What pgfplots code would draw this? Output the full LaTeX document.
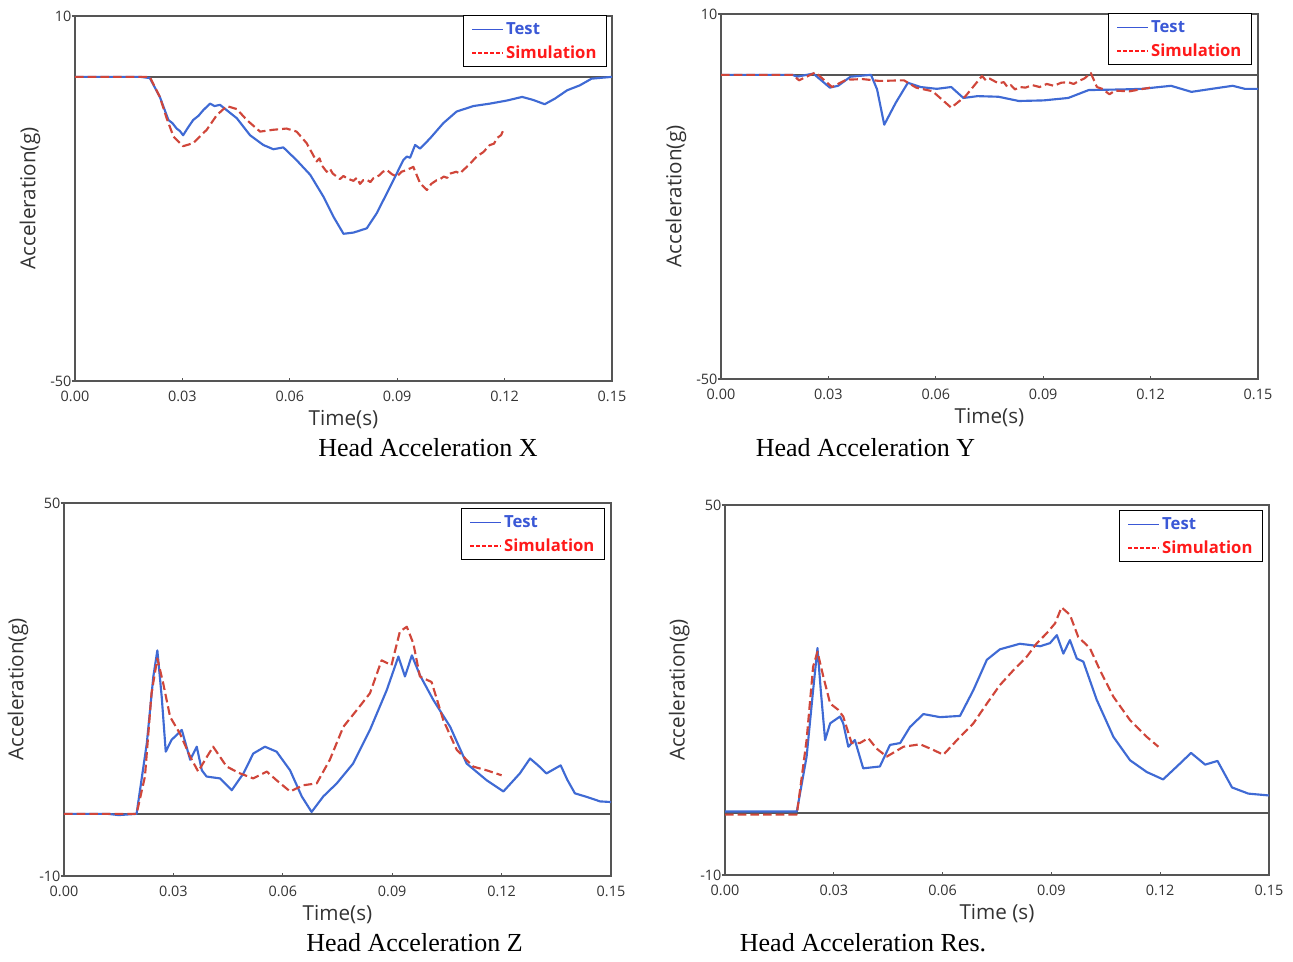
\documentclass[border=0pt]{standalone}
\usepackage{fontspec}
\setmainfont{Open Sans}
\newfontfamily\capfont{Liberation Serif}
\usepackage{pgfplots}
\pgfplotsset{compat=1.18}
\definecolor{testblue}{HTML}{3F6AD4}
\definecolor{simred}{HTML}{D0463A}
\definecolor{legblue}{HTML}{3A58D6}
\definecolor{legred}{HTML}{FF1A1A}
\definecolor{axgray}{HTML}{555555}
\definecolor{txtgray}{HTML}{333333}
\pgfplotsset{
  panel/.style={
    scale only axis,
    xmin=0, xmax=0.15,
    xtick={0,0.03,0.06,0.09,0.12,0.15},
    xticklabels={0.00,0.03,0.06,0.09,0.12,0.15},
    xtick pos=bottom, ytick pos=left,
    tick align=inside,
    major tick length=2.5pt,
    tick style={axgray, line width=0.9pt},
    y tick style={xshift=-2.5pt},
    axis line style={axgray, line width=1.5pt},
    ticklabel style={font=\fontsize{10.8}{12}\selectfont, text=txtgray},
    yticklabel style={inner sep=1pt, xshift=-1.5pt},
    xticklabel style={inner sep=1pt, yshift=-6.5pt},
    xlabel style={font=\fontsize{15.5}{17}\selectfont, text=txtgray,
      at={(axis description cs:0.5,0)}, anchor=center, yshift=-29pt},
    ylabel style={font=\fontsize{15.5}{17}\selectfont, text=txtgray,
      at={(axis description cs:-0.084,0.5)}, anchor=center},
    legend cell align=left,
    legend style={draw=black, line width=0.8pt, fill=white, anchor=north east,
      font=\fontsize{12.5}{14}\selectfont\bfseries, inner xsep=6pt, inner ysep=3.5pt, row sep=4pt,
      nodes={inner sep=1.5pt}},
    legend image code/.code={\draw[#1] (0pt,0pt) -- (23pt,0pt);},
  },
  zeroline/.style={forget plot, axgray, line width=1.5pt},
  testline/.style={forget plot, testblue, line width=1.6pt, line join=round},
  simline/.style={forget plot, simred, line width=1.6pt, dash pattern=on 6.5pt off 3pt, line join=round},
}
\newcommand\legendimages{%
  \addlegendimage{legblue, line width=0.8pt}
  \addlegendimage{legred, line width=1.5pt, dash pattern=on 3pt off 1.4pt}
  \addlegendentry{\textcolor{legblue}{Test}}
  \addlegendentry{\textcolor{legred}{Simulation}}}
\begin{document}
\begin{tikzpicture}
\useasboundingbox (0,0) rectangle (969.75pt,-720.75pt);
% ---------------- X ----------------
\begin{axis}[panel, at={(56.25pt,-285.75pt)}, anchor=south west,
  width=402.75pt, height=273.75pt, ymin=-50, ymax=10,
  ytick={-50,10}, yticklabels={-50,10},
  xlabel={Time(s)}, ylabel={Acceleration(g)},
  legend style={at={(rel axis cs:0.9907,1.0027)}}]
\legendimages
\addplot[zeroline] coordinates {(0,0) (0.15,0)};
\addplot[testline] coordinates {
(0,0) (0.0182,0) (0.0209,-0.2) (0.0237,-3.3) (0.0261,-7.1) (0.0272,-7.6) (0.0284,-8.5)
(0.0293,-8.9) (0.0302,-9.6) (0.0315,-8.4) (0.033,-7.1) (0.0345,-6.4) (0.0358,-5.5)
(0.0377,-4.4) (0.0390,-4.8) (0.0405,-4.6) (0.0452,-6.8) (0.0489,-9.6) (0.0526,-11.2)
(0.0554,-11.9) (0.0582,-11.6) (0.0619,-13.7) (0.0657,-16.1) (0.0694,-19.7) (0.0722,-23.0)
(0.075,-25.8) (0.0778,-25.6) (0.0815,-24.9) (0.0843,-22.4) (0.088,-18.1) (0.0917,-13.7)
(0.0927,-13.1) (0.0936,-13.3) (0.095,-11.2) (0.0964,-11.8) (0.0992,-10.1) (0.1029,-7.6)
(0.1066,-5.7) (0.1113,-4.8) (0.1159,-4.4) (0.1206,-3.9) (0.1249,-3.3) (0.1280,-3.8)
(0.1312,-4.5) (0.1340,-3.6) (0.1375,-2.2) (0.1410,-1.4) (0.1443,-0.3) (0.15,0)};
\addplot[simline] coordinates {
(0,0) (0.0209,0) (0.0237,-3.3) (0.0256,-6.8) (0.0275,-9.8) (0.0302,-11.4) (0.033,-10.9)
(0.0368,-8.7) (0.0396,-6.3) (0.0424,-4.8) (0.0452,-5.3) (0.048,-7.1) (0.0517,-9.0)
(0.0554,-8.7) (0.0591,-8.5) (0.0619,-9.0) (0.0647,-10.9) (0.0675,-13.9) (0.0683,-13.4)
(0.0690,-14.6) (0.0703,-15.6) (0.0712,-15.1) (0.0720,-15.9) (0.074,-16.8) (0.0750,-16.3)
(0.0760,-16.7) (0.0778,-17.1) (0.0787,-16.6) (0.0796,-17.6) (0.0805,-17.0) (0.0815,-16.9)
(0.0825,-17.3) (0.0833,-16.7) (0.0850,-16.2) (0.0860,-15.6) (0.0871,-15.3) (0.0885,-16.0)
(0.0899,-16.4) (0.0912,-15.6) (0.0927,-15.3) (0.0945,-14.8) (0.0964,-17.5) (0.0983,-18.6)
(0.0995,-17.6) (0.101,-17.0) (0.1020,-16.8) (0.1030,-16.4) (0.1040,-16.6) (0.1048,-15.9)
(0.1065,-15.6) (0.1075,-15.9) (0.1085,-15.3) (0.1100,-14.5) (0.1122,-13.1) (0.1140,-12.4)
(0.1159,-11.2) (0.1170,-11.0) (0.1180,-10.0) (0.1190,-9.6) (0.1197,-8.7)};
\end{axis}
% ---------------- Y ----------------
\begin{axis}[panel, at={(540.75pt,-284.25pt)}, anchor=south west,
  width=402.75pt, height=273.75pt, ymin=-50, ymax=10,
  ytick={-50,10}, yticklabels={-50,10},
  xlabel={Time(s)}, ylabel={Acceleration(g)},
  legend style={at={(rel axis cs:0.9888,1.0027)}}]
\legendimages
\addplot[zeroline] coordinates {(0,0) (0.15,0)};
\addplot[testline] coordinates {
(0,0) (0.020,0) (0.0212,-0.3) (0.0258,0.2) (0.0304,-2.1) (0.0327,-1.8) (0.0362,-0.3)
(0.0419,0) (0.0436,-2.4) (0.0456,-8.2) (0.0488,-4.6) (0.0522,-1.3) (0.0557,-2.0)
(0.0603,-2.3) (0.0643,-2.0) (0.0677,-3.8) (0.0717,-3.5) (0.0775,-3.6) (0.0832,-4.3)
(0.0901,-4.2) (0.0970,-3.8) (0.1027,-2.5) (0.1119,-2.4) (0.1176,-2.3) (0.1257,-1.8)
(0.1314,-2.8) (0.1371,-2.3) (0.1429,-1.8) (0.1463,-2.3) (0.15,-2.3)};
\addplot[simline] coordinates {
(0,0) (0.020,0) (0.0218,-0.9) (0.0264,0.4) (0.031,-2.0) (0.035,-0.8) (0.0396,-0.7)
(0.0442,-1.0) (0.0511,-0.9) (0.0545,-2.1) (0.0591,-2.7) (0.0643,-5.4) (0.0683,-3.5)
(0.0729,-0.2) (0.0740,-0.9) (0.0750,-0.6) (0.0775,-1.4) (0.0790,-1.2) (0.0800,-2.0)
(0.0810,-1.7) (0.0821,-2.4) (0.0835,-2.0) (0.0850,-2.1) (0.0870,-1.7) (0.0890,-2.0)
(0.0910,-1.5) (0.0930,-1.8) (0.0950,-1.3) (0.0970,-1.2) (0.0985,-1.5) (0.1000,-1.0)
(0.1015,-0.6) (0.1033,0.3) (0.1050,-2.0) (0.1065,-2.3) (0.1085,-3.2) (0.1100,-2.6)
(0.1142,-2.7) (0.1170,-2.4) (0.12,-2.1)};
\end{axis}
% ---------------- Z ----------------
\begin{axis}[panel, at={(48pt,-657pt)}, anchor=south west,
  width=410.25pt, height=279.75pt, ymin=-10, ymax=50,
  ytick={-10,50}, yticklabels={-10,50},
  xlabel={Time(s)}, ylabel={Acceleration(g)},
  legend style={at={(rel axis cs:0.989,0.9866)}}]
\legendimages
\addplot[zeroline] coordinates {(0,0) (0.15,0)};
\addplot[testline] coordinates {
(0,0) (0.012,0) (0.015,-0.2) (0.0199,0) (0.0227,11.3) (0.0245,22.1) (0.0256,26.3)
(0.0268,18.8) (0.0279,10.0) (0.0295,11.9) (0.0323,13.5) (0.0346,8.7) (0.0364,10.8)
(0.0378,7.0) (0.0391,6.0) (0.0428,5.7) (0.046,3.8) (0.0492,6.5) (0.0519,9.7)
(0.0551,10.8) (0.0583,10.0) (0.062,7.0) (0.0652,2.8) (0.0679,0.3) (0.0711,2.8)
(0.0748,4.9) (0.0793,8.1) (0.0839,13.5) (0.0885,19.9) (0.0917,25.3) (0.0935,22.1)
(0.0954,25.5) (0.0976,22.3) (0.1013,18.3) (0.1059,14.0) (0.1104,8.1) (0.1159,5.4)
(0.1205,3.6) (0.125,6.5) (0.1278,8.9) (0.1300,7.8) (0.1323,6.5) (0.1362,7.8)
(0.1380,5.5) (0.1401,3.3) (0.1435,2.7) (0.1470,2.0) (0.15,1.9)};
\addplot[simline] coordinates {
(0,0) (0.0199,0) (0.0222,6.0) (0.024,19.4) (0.0256,25.0) (0.0272,21.0) (0.0291,15.6)
(0.0318,12.9) (0.0346,9.2) (0.0368,6.8) (0.0387,8.7) (0.0409,10.8) (0.0446,7.6)
(0.0483,6.5) (0.0519,5.7) (0.0556,6.8) (0.0583,5.4) (0.062,3.6) (0.0656,4.6)
(0.0693,4.9) (0.0729,8.7) (0.0766,14.0) (0.0803,16.7) (0.0839,19.4) (0.0871,24.7)
(0.0898,23.9) (0.0921,29.3) (0.094,30.1) (0.0958,27.4) (0.0976,22.1) (0.1008,21.2)
(0.104,15.1) (0.1077,10.3) (0.1122,7.6) (0.1159,7.0) (0.12,6.2)};
\end{axis}
% ---------------- Res ----------------
\begin{axis}[panel, at={(543.75pt,-656.25pt)}, anchor=south west,
  width=408pt, height=277.5pt, ymin=-10, ymax=50,
  ytick={-10,50}, yticklabels={-10,50},
  xlabel={Time (s)}, ylabel={Acceleration(g)},
  legend style={at={(rel axis cs:0.989,0.9865)}}]
\legendimages
\addplot[zeroline] coordinates {(0,0) (0.15,0)};
\addplot[testline] coordinates {
(0,0.3) (0.0198,0.3) (0.0225,9.2) (0.0243,20.0) (0.0255,26.8) (0.0264,20.0) (0.0276,11.9)
(0.029,14.6) (0.0317,15.7) (0.0326,14.6) (0.034,10.8) (0.0358,11.9) (0.0381,7.3)
(0.0427,7.6) (0.0455,11.1) (0.0483,11.4) (0.051,14.0) (0.0547,16.1) (0.0593,15.6)
(0.0648,15.8) (0.0685,20.0) (0.0722,24.9) (0.0758,26.6) (0.0813,27.5) (0.0869,27.1)
(0.0896,27.6) (0.0915,28.9) (0.0933,25.9) (0.0951,28.1) (0.097,25.1) (0.0988,24.6)
(0.1025,18.4) (0.1071,12.4) (0.1117,8.6) (0.1163,6.7) (0.1208,5.5) (0.1255,8.1)
(0.1285,9.8) (0.1324,7.9) (0.1358,8.5) (0.1398,4.2) (0.1443,3.2) (0.15,2.9)};
\addplot[simline] coordinates {
(0,-0.2) (0.0198,-0.2) (0.0225,11.9) (0.0243,23.8) (0.0255,26.2) (0.0271,22.2) (0.029,17.8)
(0.0312,16.8) (0.0326,15.7) (0.0349,11.4) (0.0372,11.4) (0.0395,12.2) (0.0418,10.5)
(0.0446,9.2) (0.0492,10.8) (0.0538,11.2) (0.0574,10.3) (0.0602,9.5) (0.0648,12.4)
(0.0685,14.6) (0.0722,17.8) (0.0758,20.8) (0.0795,23.2) (0.0832,25.4) (0.0860,27.6)
(0.0887,29.2) (0.091,30.8) (0.0928,33.4) (0.0951,32.2) (0.0974,28.6) (0.1006,26.8)
(0.1034,23.2) (0.1071,18.9) (0.1117,15.1) (0.1163,12.4) (0.1195,10.8)};
\end{axis}
% ---------------- captions ----------------
\node[font=\capfont\fontsize{19.5}{22}\selectfont] at (321pt,-336pt) {Head Acceleration X};
\node[font=\capfont\fontsize{19.5}{22}\selectfont] at (649.1pt,-336pt) {Head Acceleration Y};
\node[font=\capfont\fontsize{19.5}{22}\selectfont] at (310.9pt,-707.25pt) {Head Acceleration Z};
\node[font=\capfont\fontsize{19.5}{22}\selectfont] at (647.25pt,-707.25pt) {Head Acceleration Res.};
\end{tikzpicture}
\end{document}
